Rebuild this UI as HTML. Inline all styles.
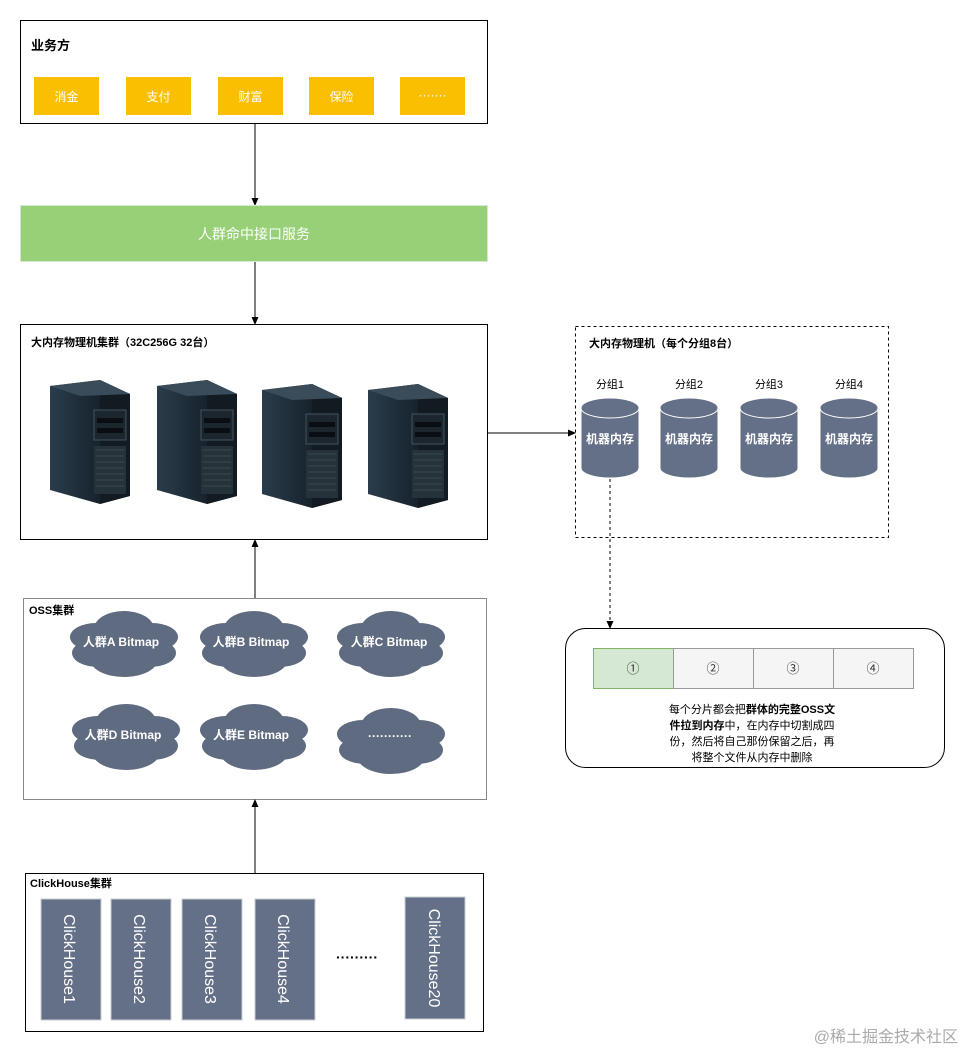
<!DOCTYPE html>
<html><head><meta charset="utf-8"><style>
html,body{margin:0;padding:0;background:#fff;}
text{font-family:"Liberation Sans","Noto Sans CJK SC",sans-serif;}
</style></head><body>
<svg width="965" height="1053" viewBox="0 0 965 1053" xmlns="http://www.w3.org/2000/svg">
<defs>
<marker id="ar" markerWidth="8" markerHeight="8" refX="7" refY="4" orient="auto" markerUnits="userSpaceOnUse"><path d="M0,0.5 L8,4 L0,7.5 z" fill="#000"/></marker>
<linearGradient id="sv" x1="0" x2="1"><stop offset="0" stop-color="#2a3d4c"/><stop offset="1" stop-color="#0c1218"/></linearGradient>
<g id="cloud"><ellipse cx="0" cy="-14" rx="30" ry="18"/><ellipse cx="-28" cy="-6" rx="26" ry="14"/><ellipse cx="28" cy="-6" rx="26" ry="14"/><ellipse cx="-26" cy="10" rx="26" ry="14"/><ellipse cx="26" cy="10" rx="26" ry="14"/><ellipse cx="0" cy="16" rx="34" ry="18"/><ellipse cx="0" cy="0" rx="46" ry="18"/></g>
<g id="srv"><polygon points="0,0 50,-6 80,8 80,110 50,118 0,104" fill="url(#sv)"/><polygon points="50,-6 80,8 80,110 50,118" fill="#121a22"/><polygon points="0,0 50,-6 80,8 30,10" fill="#3a4c5a"/><rect x="44" y="24" width="32" height="30" fill="#1c262e" stroke="#44545e" stroke-width="1"/><rect x="47" y="32" width="26" height="5" fill="#0a0e12"/><rect x="47" y="42" width="26" height="5" fill="#0a0e12"/><rect x="44" y="60" width="32" height="48" fill="#26323a"/><path d="M46,64 h28 M46,70 h28 M46,76 h28 M46,82 h28 M46,88 h28 M46,94 h28 M46,100 h28" stroke="#3a4850" stroke-width="1"/></g>
</defs>

<!-- 业务方 -->
<rect x="20.5" y="20.5" width="467" height="103" fill="#fff" stroke="#000"/>
<text x="31" y="50" font-size="13" font-weight="bold">业务方</text>
<g font-size="12" fill="#fff" text-anchor="middle">
<rect x="34" y="77" width="65" height="38" fill="#f9bf00"/><text x="66.5" y="101">消金</text>
<rect x="126" y="77" width="65" height="38" fill="#f9bf00"/><text x="158.5" y="101">支付</text>
<rect x="218" y="77" width="65" height="38" fill="#f9bf00"/><text x="250.5" y="101">财富</text>
<rect x="309" y="77" width="65" height="38" fill="#f9bf00"/><text x="341.5" y="101">保险</text>
<rect x="400" y="77" width="65" height="38" fill="#f9bf00"/><text x="432.5" y="99">·······</text>
</g>
<line x1="255" y1="124" x2="255" y2="205" stroke="#000" marker-end="url(#ar)"/>

<rect x="20.5" y="205.5" width="467" height="56" fill="#97d077" stroke="#d5e8d4"/>
<text x="254" y="239" font-size="14" fill="#fff" text-anchor="middle">人群命中接口服务</text>
<line x1="255" y1="262" x2="255" y2="324" stroke="#000" marker-end="url(#ar)"/>

<!-- 大内存 -->
<rect x="20.5" y="324.5" width="467" height="215" fill="#fff" stroke="#000"/>
<text x="31" y="346" font-size="11" font-weight="bold">大内存物理机集群（32C256G  32台）</text>
<use href="#srv" x="50" y="386"/>
<use href="#srv" x="157" y="386"/>
<use href="#srv" x="262" y="390"/>
<use href="#srv" x="368" y="390"/>
<line x1="488" y1="433" x2="575" y2="433" stroke="#000" marker-end="url(#ar)"/>

<rect x="575.5" y="326.5" width="313" height="211" fill="#fff" stroke="#000" stroke-dasharray="3,3"/>
<text x="589" y="347" font-size="11" font-weight="bold">大内存物理机（每个分组8台）</text>
<g font-size="11" text-anchor="middle">
<text x="610" y="388">分组1</text><text x="689" y="388">分组2</text><text x="769" y="388">分组3</text><text x="849" y="388">分组4</text>
</g>
<g fill="#647087" stroke="#fff" stroke-width="1">
<path d="M581,408 v60 a29,10 0 0 0 58,0 v-60 a29,10 0 0 0 -58,0 a29,10 0 0 0 58,0"/>
<path d="M660,408 v60 a29,10 0 0 0 58,0 v-60 a29,10 0 0 0 -58,0 a29,10 0 0 0 58,0"/>
<path d="M740,408 v60 a29,10 0 0 0 58,0 v-60 a29,10 0 0 0 -58,0 a29,10 0 0 0 58,0"/>
<path d="M820,408 v60 a29,10 0 0 0 58,0 v-60 a29,10 0 0 0 -58,0 a29,10 0 0 0 58,0"/>
</g>
<g font-size="12" font-weight="bold" fill="#fff" text-anchor="middle">
<text x="610" y="443">机器内存</text><text x="689" y="443">机器内存</text><text x="769" y="443">机器内存</text><text x="849" y="443">机器内存</text>
</g>
<line x1="610" y1="479" x2="610" y2="628" stroke="#000" stroke-dasharray="3,3" marker-end="url(#ar)"/>

<rect x="565.5" y="628.5" width="379" height="139" rx="20" fill="#fff" stroke="#000"/>
<g font-size="13" text-anchor="middle" fill="#333">
<rect x="593.5" y="648.5" width="80" height="40" fill="#d5e8d4" stroke="#82b366"/><text x="633" y="673">①</text>
<rect x="673.5" y="648.5" width="80" height="40" fill="#f5f5f5" stroke="#999"/><text x="713" y="673">②</text>
<rect x="753.5" y="648.5" width="80" height="40" fill="#f5f5f5" stroke="#999"/><text x="793" y="673">③</text>
<rect x="833.5" y="648.5" width="80" height="40" fill="#f5f5f5" stroke="#999"/><text x="873" y="673">④</text>
</g>
<g font-size="11" text-anchor="middle">
<text x="752" y="713">每个分片都会把<tspan font-weight="bold">群体的完整OSS文</tspan></text>
<text x="752" y="729"><tspan font-weight="bold">件拉到内存</tspan>中，在内存中切割成四</text>
<text x="752" y="745">份，然后将自己那份保留之后，再</text>
<text x="752" y="761">将整个文件从内存中删除</text>
</g>

<!-- OSS -->
<line x1="255" y1="598" x2="255" y2="540" stroke="#000" marker-end="url(#ar)"/>
<rect x="23.5" y="598.5" width="463" height="201" fill="#fff" stroke="#888"/>
<text x="29" y="614" font-size="11" font-weight="bold">OSS集群</text>
<g fill="#5f6b80">
<use href="#cloud" x="124" y="643"/><use href="#cloud" x="254" y="643"/><use href="#cloud" x="391" y="643"/>
<use href="#cloud" x="126" y="736"/><use href="#cloud" x="254" y="736"/><use href="#cloud" x="391" y="740"/>
</g>
<g font-size="12" font-weight="bold" fill="#fff" text-anchor="middle">
<text x="121" y="646">人群A Bitmap</text><text x="251" y="646">人群B Bitmap</text><text x="389" y="646">人群C Bitmap</text>
<text x="123" y="739">人群D Bitmap</text><text x="251" y="739">人群E Bitmap</text><text x="390" y="740">···········</text>
</g>

<!-- ClickHouse -->
<line x1="255" y1="873" x2="255" y2="800" stroke="#000" marker-end="url(#ar)"/>
<rect x="25.5" y="873.5" width="458" height="158" fill="#fff" stroke="#000"/>
<text x="30" y="887" font-size="11" font-weight="bold">ClickHouse集群</text>
<g fill="#647087" stroke="#c8ccd4">
<rect x="41" y="899" width="60" height="121"/><rect x="111" y="899" width="60" height="121"/><rect x="182" y="899" width="60" height="121"/><rect x="255" y="899" width="60" height="121"/><rect x="405" y="897" width="60" height="122"/>
</g>
<g font-size="16" fill="#fff" text-anchor="middle">
<text transform="translate(64,959) rotate(90)">ClickHouse1</text>
<text transform="translate(134,959) rotate(90)">ClickHouse2</text>
<text transform="translate(205,959) rotate(90)">ClickHouse3</text>
<text transform="translate(278,959) rotate(90)">ClickHouse4</text>
<text transform="translate(429,958) rotate(90)">ClickHouse20</text>
</g>
<text x="357" y="962" font-size="14" font-weight="bold" text-anchor="middle">·········</text>

<text x="958" y="1042" font-size="16" fill="#aaa" text-anchor="end">@稀土掘金技术社区</text>
</svg>
</body></html>
